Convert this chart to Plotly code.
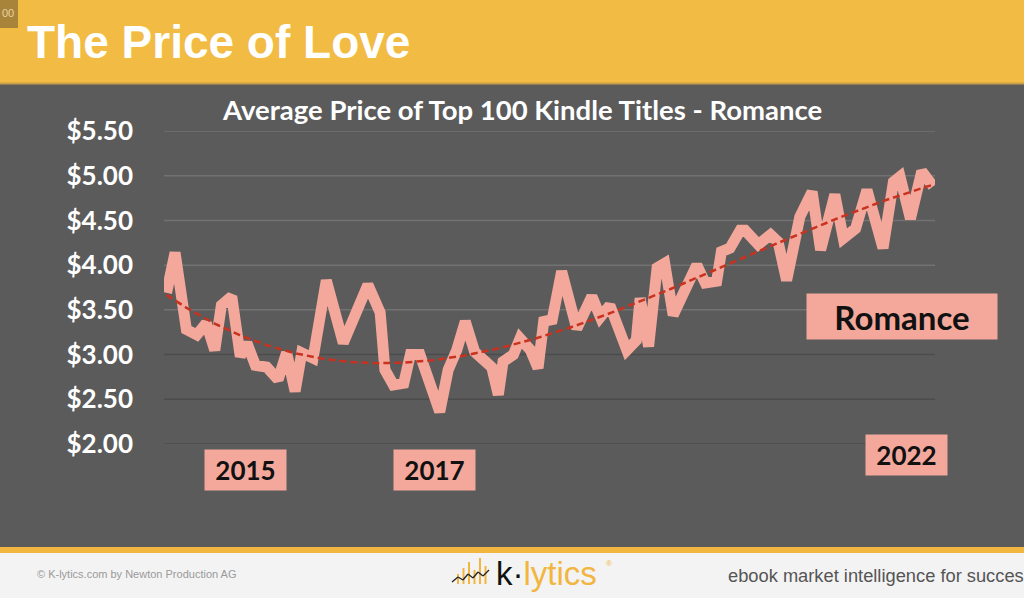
import numpy as np
import plotly.graph_objects as go

# ---------------- data ----------------
years = [2014.67, 2014.76, 2014.88, 2014.99, 2015.09, 2015.18, 2015.25, 2015.36, 2015.45, 2015.52,
         2015.61, 2015.73, 2015.85, 2015.94, 2016.03, 2016.10, 2016.22, 2016.36, 2016.54, 2016.80,
         2016.93, 2016.98, 2017.07, 2017.18, 2017.25, 2017.35, 2017.56, 2017.65, 2017.74, 2017.83,
         2017.93, 2018.02, 2018.11, 2018.18, 2018.23, 2018.34, 2018.41, 2018.52, 2018.60, 2018.66,
         2018.75, 2018.85, 2019.01, 2019.17, 2019.26, 2019.36, 2019.54, 2019.64, 2019.68, 2019.77,
         2019.86, 2019.94, 2020.03, 2020.14, 2020.28, 2020.37, 2020.49, 2020.54, 2020.63, 2020.74,
         2020.79, 2020.93, 2021.06, 2021.14, 2021.23, 2021.37, 2021.50, 2021.59, 2021.74, 2021.83,
         2021.96, 2022.08, 2022.25, 2022.36, 2022.43, 2022.54, 2022.66, 2022.78]
price = [3.69, 4.14, 3.28, 3.22, 3.35, 3.05, 3.55, 3.65, 2.98, 3.13,
         2.88, 2.86, 2.72, 3.02, 2.59, 3.02, 2.96, 3.83, 3.13, 3.78,
         3.47, 2.83, 2.66, 2.68, 3.00, 3.00, 2.36, 2.83, 3.05, 3.37,
         3.03, 2.94, 2.86, 2.55, 2.92, 3.00, 3.18, 3.05, 2.85, 3.37,
         3.39, 3.93, 3.29, 3.65, 3.42, 3.55, 3.05, 3.16, 3.63, 3.09,
         3.97, 4.02, 3.44, 3.69, 4.00, 3.80, 3.82, 4.15, 4.19, 4.39,
         4.39, 4.23, 4.34, 4.26, 3.83, 4.54, 4.82, 4.17, 4.79, 4.30,
         4.41, 4.84, 4.19, 4.93, 4.99, 4.52, 5.05, 4.88]

y_ticks = [2.0, 2.5, 3.0, 3.5, 4.0, 4.5, 5.0, 5.5]
y_tick_labels = ["$2.00", "$2.50", "$3.00", "$3.50", "$4.00", "$4.50", "$5.00", "$5.50"]
year_labels = ["2015", "2017", "2022"]

main_title = "The Price of Love"
chart_title = "Average Price of Top 100 Kindle Titles - Romance"
series_name = "Romance"

# ---------------- styling ----------------
W, H = 1024, 598
L, R, T, B = 164, 89, 131, 154
PW, PH = W - L - R, H - T - B

def px(x):
    return (x - L) / PW

def py(y):
    return (H - B - y) / PH

BG = "#5b5b5b"
YELLOW = "#f2bb43"
SALMON = "#f3a89b"
TREND = "#c8321f"

x_arr = np.array(years)
coef = np.polyfit(x_arr - 2018.0, np.array(price), 3)
trend_x = np.linspace(x_arr.min(), x_arr.max(), 200)
trend_y = np.polyval(coef, trend_x - 2018.0)

fig = go.Figure()
fig.add_trace(go.Scatter(x=years, y=price, mode="lines", name=series_name,
                         line=dict(color=SALMON, width=11, shape="linear"),
                         hoverinfo="skip"))
fig.add_trace(go.Scatter(x=trend_x, y=trend_y, mode="lines", name="Trend",
                         line=dict(color=TREND, width=2.5, dash="7px,4px"),
                         hoverinfo="skip"))

shapes = [
    dict(type="rect", xref="paper", yref="paper", x0=px(-5), x1=px(W + 5), y0=py(83), y1=py(-5),
         fillcolor=YELLOW, line=dict(width=0), layer="below"),
    dict(type="line", xref="paper", yref="paper", x0=px(0), x1=px(W), y0=py(83.5), y1=py(83.5),
         line=dict(color="#c9a04a", width=2), layer="below"),
    dict(type="rect", xref="paper", yref="paper", x0=px(-5), x1=px(W + 5), y0=py(H + 5), y1=py(553),
         fillcolor="#f3f3f3", line=dict(width=0), layer="below"),
    dict(type="rect", xref="paper", yref="paper", x0=px(-5), x1=px(W + 5), y0=py(553), y1=py(547),
         fillcolor="#f2b540", line=dict(width=0), layer="below"),
    dict(type="rect", xref="paper", yref="paper", x0=px(-4), x1=px(18), y0=py(28), y1=py(-4),
         fillcolor="#a8843a", line=dict(width=0), layer="above"),
]

# gridlines (lighter in upper half, darker in lower half as in the slide)
for tv in y_ticks:
    shapes.append(dict(type="line", xref="paper", yref="y", x0=0, x1=1, y0=tv, y1=tv,
                       line=dict(color="#727272" if tv >= 3.5 else "#4c4c4c", width=1.5),
                       layer="below"))

bar_h = [10, 16, 22, 14, 26, 18]
for i, h in enumerate(bar_h):
    xb = 458 + i * 5.5
    shapes.append(dict(type="line", xref="paper", yref="paper", x0=px(xb), x1=px(xb),
                       y0=py(584), y1=py(584 - h), line=dict(color="#f2b540", width=2)))
zig_x = [452, 458, 463, 468, 473, 478, 483, 489]
zig_y = [582, 577, 580, 574, 578, 572, 576, 570]
for i in range(len(zig_x) - 1):
    shapes.append(dict(type="line", xref="paper", yref="paper", x0=px(zig_x[i]), x1=px(zig_x[i + 1]),
                       y0=py(zig_y[i]), y1=py(zig_y[i + 1]), line=dict(color="#222", width=1.3)))

annotations = [
    dict(text="<b>" + main_title + "</b>", xref="paper", yref="paper", x=px(25), y=py(42),
         xanchor="left", yanchor="middle", showarrow=False,
         font=dict(family="Liberation Sans, Arial", size=46, color="white")),
    dict(text="00", xref="paper", yref="paper", x=px(0), y=py(13), xanchor="left", yanchor="middle",
         showarrow=False, font=dict(family="Liberation Sans", size=11, color="#e8d2a0")),
    dict(text="<b>" + chart_title + "</b>", xref="paper", yref="paper", x=px(522), y=py(110),
         xanchor="center", yanchor="middle", showarrow=False,
         font=dict(family="Lato, Open Sans", size=27.5, color="white")),
    dict(text="<b>" + series_name + "</b>", xref="paper", yref="paper", x=px(902), y=py(316.5),
         xanchor="center", yanchor="middle", showarrow=False, bgcolor=SALMON, borderpad=0,
         width=190, height=45, font=dict(family="Lato, Open Sans", size=33, color="#111")),
    dict(text="© K-lytics.com by Newton Production AG", xref="paper", yref="paper", x=px(35), y=py(574),
         xanchor="left", yanchor="middle", showarrow=False,
         font=dict(family="Liberation Sans", size=11, color="#9a9a9a")),
    dict(text="<span style='color:#111'>k·</span><span style='color:#f2b540'>lytics</span>",
         xref="paper", yref="paper", x=px(494), y=py(573), xanchor="left", yanchor="middle",
         showarrow=False, font=dict(family="Liberation Sans", size=33, color="#111")),
    dict(text="®", xref="paper", yref="paper", x=px(604), y=py(563), xanchor="left",
         yanchor="middle", showarrow=False, font=dict(family="Liberation Sans", size=8, color="#f2b540")),
    dict(text="ebook market intelligence for succes", xref="paper", yref="paper", x=px(726),
         y=py(575), xanchor="left", yanchor="middle", showarrow=False,
         font=dict(family="Liberation Sans", size=18.3, color="#555555")),
]
year_y = [470, 470, 454.5]
for lab, yy in zip(year_labels, year_y):
    annotations.append(dict(text="<b>" + lab + "</b>", xref="x", yref="paper", x=int(lab) + 0.5,
                            y=py(yy), xanchor="center", yanchor="middle", showarrow=False,
                            bgcolor=SALMON, borderpad=0, width=81, height=40,
                            font=dict(family="Lato, Open Sans", size=26, color="#111")))

fig.update_layout(
    width=W, height=H,
    margin=dict(l=L, r=R, t=T, b=B, pad=0),
    paper_bgcolor=BG, plot_bgcolor=BG,
    showlegend=False,
    shapes=shapes,
    annotations=annotations,
    xaxis=dict(range=[2014.643, 2022.80], showgrid=False, showticklabels=False, zeroline=False,
               showline=False, ticks=""),
    yaxis=dict(range=[2.0, 5.5], tickvals=y_ticks, ticktext=y_tick_labels, showgrid=False,
               zeroline=False, showline=False, ticks="", ticklabelstandoff=30,
               tickfont=dict(family="Lato, Open Sans", size=26, color="white", weight="bold")),
)

fig.write_html("out.html")
